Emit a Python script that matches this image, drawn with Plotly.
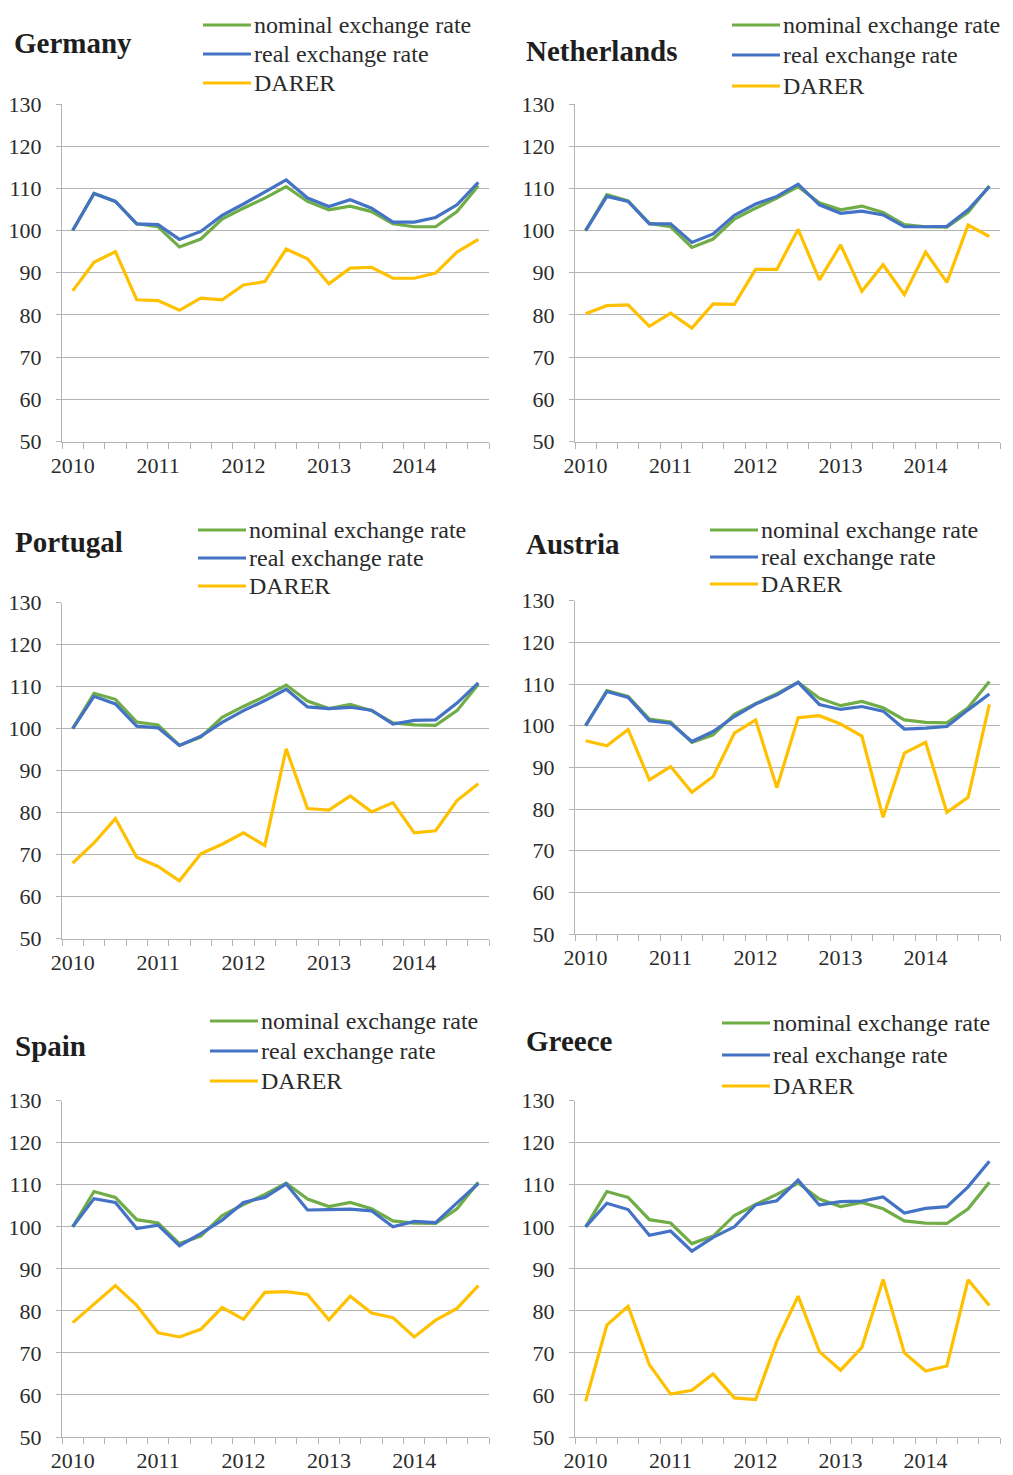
import plotly.graph_objects as go

# ---------------- data ----------------
quarters = [f"{y}Q{q}" for y in range(2010, 2015) for q in range(1, 5)]
year_labels = ["2010", "2011", "2012", "2013", "2014"]
series_names = ["nominal exchange rate", "real exchange rate", "DARER"]

nominal_germany = [100, 108.8, 106.9, 101.6, 100.9, 96.1, 98.0, 102.7, 105.3, 107.7,
                   110.4, 106.9, 104.9, 105.8, 104.5, 101.6, 100.9, 100.9, 104.5, 110.6]
real_germany = [100, 108.8, 106.9, 101.6, 101.4, 97.9, 99.8, 103.6, 106.3, 109.1,
                112.0, 107.7, 105.7, 107.3, 105.3, 102.0, 102.0, 103.1, 106.1, 111.4]
darer_germany = [85.7, 92.5, 95.0, 83.6, 83.4, 81.1, 84.0, 83.6, 87.1, 87.9,
                 95.6, 93.3, 87.4, 91.1, 91.3, 88.7, 88.7, 89.9, 94.9, 97.9]

nominal_netherlands = [100, 108.5, 107.0, 101.7, 100.9, 96.0, 98.0, 102.7, 105.3, 107.7,
                       110.4, 106.6, 104.9, 105.8, 104.3, 101.4, 100.9, 100.8, 104.3, 110.6]
real_netherlands = [100, 108.1, 106.9, 101.6, 101.6, 97.2, 99.2, 103.6, 106.3, 108.1,
                    111.0, 106.1, 104.1, 104.6, 103.7, 100.9, 100.9, 101.0, 104.9, 110.4]
darer_netherlands = [80.3, 82.2, 82.4, 77.3, 80.4, 76.9, 82.6, 82.5, 90.8, 90.8,
                     100.3, 88.3, 96.6, 85.6, 91.9, 84.8, 94.9, 87.7, 101.3, 98.6]

nominal_portugal = [100, 108.4, 107.0, 101.6, 100.9, 96.0, 98.0, 102.7, 105.3, 107.7,
                    110.4, 106.6, 104.8, 105.8, 104.3, 101.4, 100.9, 100.8, 104.3, 110.6]
real_portugal = [100, 107.7, 105.9, 100.6, 100.2, 96.0, 98.2, 101.5, 104.3, 106.7,
                 109.4, 105.2, 104.8, 105.1, 104.4, 101.1, 102.0, 102.1, 106.1, 110.9]
darer_portugal = [68.0, 72.8, 78.6, 69.4, 67.2, 63.8, 70.2, 72.5, 75.2, 72.2,
                  95.2, 81.0, 80.6, 84.0, 80.2, 82.4, 75.2, 75.7, 82.9, 86.9]

nominal_austria = [100, 108.4, 107.0, 101.6, 100.9, 96.0, 97.8, 102.7, 105.3, 107.7,
                   110.4, 106.6, 104.8, 105.8, 104.3, 101.4, 100.8, 100.7, 104.3, 110.6]
real_austria = [100, 108.2, 106.8, 101.2, 100.6, 96.2, 98.6, 102.2, 105.2, 107.4,
                110.4, 105.1, 103.9, 104.6, 103.5, 99.2, 99.4, 99.8, 103.8, 107.6]
darer_austria = [96.4, 95.2, 99.1, 87.0, 90.2, 84.0, 87.8, 98.2, 101.4, 85.1,
                 101.9, 102.4, 100.4, 97.5, 78.0, 93.4, 96.0, 79.2, 82.8, 105.1]

nominal_spain = [100, 108.4, 107.0, 101.7, 100.9, 96.0, 97.8, 102.7, 105.3, 107.7,
                 110.4, 106.6, 104.8, 105.8, 104.3, 101.4, 100.9, 100.8, 104.3, 110.6]
real_spain = [100, 106.7, 105.8, 99.6, 100.4, 95.5, 98.4, 101.6, 105.8, 107.0,
              110.2, 104.0, 104.1, 104.2, 103.8, 100.0, 101.3, 101.0, 105.7, 110.3]
darer_spain = [77.2, 81.6, 86.0, 81.3, 74.8, 73.8, 75.6, 80.8, 78.0, 84.4,
               84.6, 83.9, 77.9, 83.5, 79.5, 78.4, 73.8, 77.8, 80.6, 86.0]

nominal_greece = [100, 108.4, 107.0, 101.7, 100.9, 96.0, 97.8, 102.7, 105.3, 107.7,
                  110.4, 106.6, 104.8, 105.8, 104.3, 101.4, 100.9, 100.8, 104.3, 110.6]
real_greece = [100, 105.6, 104.1, 98.0, 99.0, 94.2, 97.5, 100.0, 105.2, 106.2,
               111.1, 105.2, 106.0, 106.1, 107.1, 103.3, 104.4, 104.8, 109.5, 115.6]
darer_greece = [58.5, 76.6, 81.1, 67.2, 60.2, 61.1, 65.0, 59.3, 58.9, 72.8,
                83.5, 70.3, 65.9, 71.3, 87.5, 70.0, 65.7, 66.9, 87.4, 81.3]

countries = ["Germany", "Netherlands", "Portugal", "Austria", "Spain", "Greece"]
country_data = {
    "Germany": (nominal_germany, real_germany, darer_germany),
    "Netherlands": (nominal_netherlands, real_netherlands, darer_netherlands),
    "Portugal": (nominal_portugal, real_portugal, darer_portugal),
    "Austria": (nominal_austria, real_austria, darer_austria),
    "Spain": (nominal_spain, real_spain, darer_spain),
    "Greece": (nominal_greece, real_greece, darer_greece),
}

# ---------------- layout (pixels of the 1013x1475 page) ----------------
PAGE_W, PAGE_H = 1013, 1475
BODY = 8                      # default page body margin
W, H = PAGE_W - BODY, PAGE_H - BODY
colors = ["#70AD47", "#4472C4", "#FFC000"]
grid_col = "#B4B4B4"
text_col = "#2B2B2B"
FONT = "Liberation Serif"

# plot area x-range, y-range, title pos, legend key start x, legend row centres
panel_layout = {
    "Germany": ((62, 489), (104, 441.5), (12, 43), 203, (25, 54, 83)),
    "Netherlands": ((575, 1000), (104, 441.5), (524, 51), 732, (25, 55, 86)),
    "Portugal": ((62, 489), (602.7, 938.7), (13, 542), 198, (530, 558, 586)),
    "Austria": ((575, 1000), (600.7, 934), (524, 544), 710, (530, 557, 584)),
    "Spain": ((62, 489), (1100.7, 1437), (13, 1046), 210, (1021, 1051, 1081)),
    "Greece": ((575, 1000), (1100.7, 1437), (524, 1041), 722, (1023, 1055, 1086)),
}
KEY_LEN = 48

def fx(p):
    return (p - BODY) / W

def fy(p):
    return 1 - (p - BODY) / H

xpos = list(range(len(quarters)))
year_ticks = [quarters.index(f"{y}Q1") for y in year_labels]
boundaries = [i - 0.5 for i in range(len(quarters) + 1)]

fig = go.Figure()
layout = dict(
    width=W, height=H,
    margin=dict(l=0, r=0, t=0, b=0, autoexpand=False),
    paper_bgcolor="white", plot_bgcolor="white",
    font=dict(family=FONT, color=text_col, size=22),
    showlegend=False,
    annotations=[], shapes=[],
)

for k, c in enumerate(countries):
    n = k + 1
    xa = "x" if n == 1 else f"x{n}"
    ya = "y" if n == 1 else f"y{n}"
    (x0, x1), (y0, y1), (tx, ty), kx, rows = panel_layout[c]
    for s, name in enumerate(series_names):
        fig.add_trace(go.Scatter(
            x=xpos, y=country_data[c][s], mode="lines", name=name,
            line=dict(color=colors[s], width=3.2),
            xaxis=xa, yaxis=ya,
        ))
        # legend key + label
        layout["shapes"].append(dict(
            type="line", xref="paper", yref="paper",
            x0=fx(kx), x1=fx(kx + KEY_LEN), y0=fy(rows[s]), y1=fy(rows[s]),
            line=dict(color=colors[s], width=3.2),
        ))
        layout["annotations"].append(dict(
            text=name, x=fx(kx + KEY_LEN + 1), y=fy(rows[s]),
            xref="paper", yref="paper", xanchor="left", yanchor="middle",
            showarrow=False, font=dict(size=24, family=FONT, color=text_col),
        ))
    xkey = "xaxis" if n == 1 else f"xaxis{n}"
    ykey = "yaxis" if n == 1 else f"yaxis{n}"
    layout[xkey] = dict(
        domain=[fx(x0), fx(x1)], anchor=ya, range=[-0.5, len(quarters) - 0.5],
        tickmode="array", tickvals=year_ticks, ticktext=year_labels,
        ticks="outside", ticklen=0, showgrid=False, zeroline=False,
        showline=True, linecolor=grid_col, linewidth=1,
        ticklabelstandoff=4,
        tickfont=dict(size=22, family=FONT, color=text_col),
        minor=dict(tickmode="array", tickvals=boundaries, ticks="outside",
                   ticklen=6, tickcolor=grid_col, tickwidth=1, showgrid=False),
    )
    layout[ykey] = dict(
        domain=[fy(y1), fy(y0)], anchor=xa, range=[50, 130],
        tickmode="linear", tick0=50, dtick=10,
        ticks="outside", ticklen=5, tickcolor=grid_col,
        showgrid=True, gridcolor=grid_col, gridwidth=1, zeroline=False,
        showline=True, linecolor=grid_col, linewidth=1,
        ticklabelstandoff=10,
        tickfont=dict(size=22, family=FONT, color=text_col),
    )
    layout["annotations"].append(dict(
        text=f"<b>{c}</b>", x=fx(tx), y=fy(ty), xref="paper", yref="paper",
        xanchor="left", yanchor="middle", showarrow=False,
        font=dict(size=29, family=FONT, color="#1E1E1E"),
    ))

fig.update_layout(**layout)
fig.write_html("out.html")
